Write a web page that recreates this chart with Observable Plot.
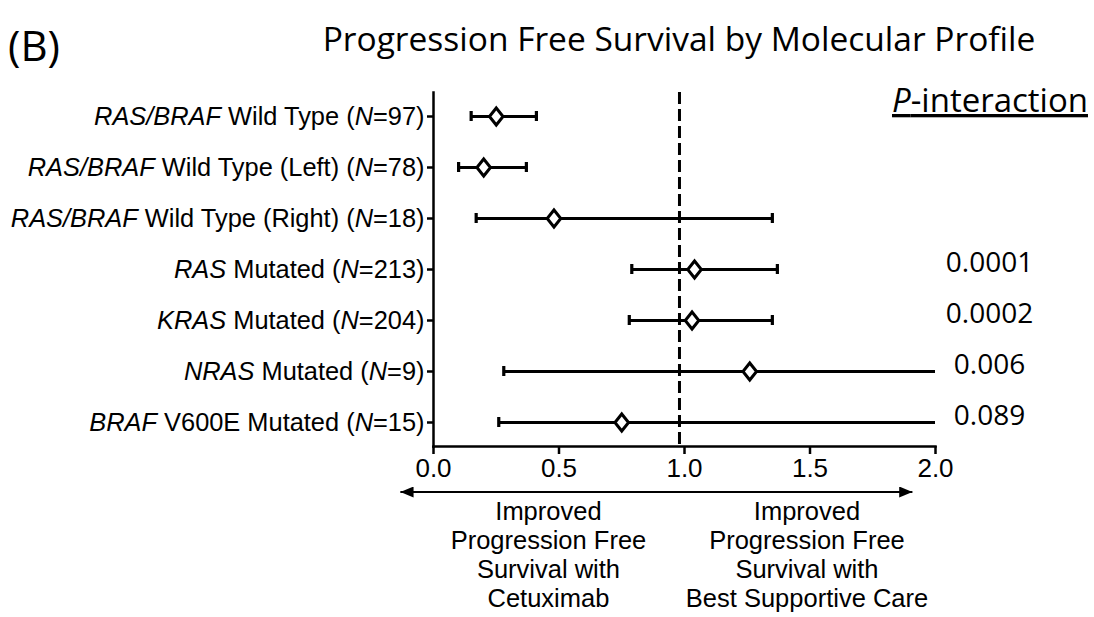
<!DOCTYPE html>
<html><head><meta charset="utf-8">
<script src="https://cdn.jsdelivr.net/npm/d3@7"></script>
<script src="https://cdn.jsdelivr.net/npm/@observablehq/plot@0.6"></script>
<style>
html,body{margin:0;padding:0;background:#fff;}
#chart{width:1094px;height:617px;overflow:hidden;position:relative;}
</style></head><body><div id="chart"></div>
<script>
// ---- data ----
// "_..._" marks italic parts of a label
const labels = [
  "_RAS/BRAF_ Wild Type (_N_=97)",
  "_RAS/BRAF_ Wild Type (Left) (_N_=78)",
  "_RAS/BRAF_ Wild Type (Right) (_N_=18)",
  "_RAS_ Mutated (_N_=213)",
  "_KRAS_ Mutated (_N_=204)",
  "_NRAS_ Mutated (_N_=9)",
  "_BRAF_ V600E Mutated (_N_=15)"
];
const hazardRatio = [0.25, 0.20, 0.48, 1.04, 1.03, 1.26, 0.75];
const ciLower     = [0.15, 0.10, 0.17, 0.79, 0.78, 0.28, 0.26];
const ciUpper     = [0.41, 0.37, 1.35, 1.37, 1.35, 2.00, 2.00];
const truncated   = [false, false, false, false, false, true, true]; // upper limit runs past the axis
const pInteraction = ["", "", "", "0.0001", "0.0002", "0.006", "0.089"];
const xTicks = [0, 0.5, 1.0, 1.5, 2.0];
const referenceLine = 0.98;
const title = "Progression Free Survival by Molecular Profile";
const panelTag = "(B)";
const leftNote = ["Improved", "Progression Free", "Survival with", "Cetuximab"];
const rightNote = ["Improved", "Progression Free", "Survival with", "Best Supportive Care"];

// ---- build ----
const rows = labels.map((label, i) => ({
  label, hr: hazardRatio[i], lo: ciLower[i], hi: ciUpper[i], open: truncated[i], p: pInteraction[i]
}));

const W = 1094, H = 617;
const diamond = {
  draw(ctx, size) {
    const r = Math.sqrt(size / Math.PI);
    ctx.moveTo(0, -r * 1.25); ctx.lineTo(r, 0); ctx.lineTo(0, r * 1.25); ctx.lineTo(-r, 0); ctx.closePath();
  }
};

const plot = Plot.plot({
  width: W, height: H,
  marginLeft: 433, marginRight: 159, marginTop: 92, marginBottom: 171,
  style: {fontFamily: "'Liberation Sans', Arial, sans-serif", background: "#fff", color: "#000"},
  x: {domain: [0, 2]},
  y: {type: "band", domain: labels, paddingInner: 0.8, paddingOuter: 0.357, align: 0.5},
  marks: [
    Plot.ruleX([referenceLine], {strokeDasharray: "12,5", strokeWidth: 3}),
    Plot.ruleY(rows, {y: "label", x1: "lo", x2: "hi", strokeWidth: 3.2}),
    Plot.tickX(rows, {x: "lo", y: "label", strokeWidth: 3.2}),
    Plot.tickX(rows.filter(d => !d.open), {x: "hi", y: "label", strokeWidth: 3.2}),
    Plot.dot(rows, {x: "hr", y: "label", symbol: diamond, r: 6.8, fill: "white", stroke: "black", strokeWidth: 3}),
    Plot.text(rows, {y: "label", text: "p", frameAnchor: "right", dx: 54, dy: -6,
      fontFamily: "'Open Sans', sans-serif", fontSize: 28, textAnchor: "middle"}),
    Plot.axisX({ticks: xTicks, tickFormat: d3.format(".1f"), tickSize: 8, tickPadding: 4, fontSize: 26, strokeWidth: 2.5, label: null}),
    Plot.axisY({tickSize: 6, tickPadding: 3, fontSize: 25.4, strokeWidth: 2.5, label: null}),
    Plot.frame({anchor: "bottom", strokeWidth: 2.5}),
    Plot.frame({anchor: "left", strokeWidth: 2.5})
  ]
});
document.getElementById("chart").appendChild(plot);

const svg = d3.select(plot);
// mixed italic tick labels
svg.selectAll('g[aria-label="y-axis tick label"] text').each(function () {
  const raw = this.textContent;
  const parts = raw.split("_");
  const t = d3.select(this);
  t.text(null);
  parts.forEach((s, i) => {
    if (!s) return;
    const ts = t.append("tspan").text(s);
    if (i % 2 === 1) ts.attr("font-style", "italic");
  });
});

const xs = plot.scale("x");
const X = v => xs.apply(v);
const axisY = H - 171;

// title and panel tag
svg.append("text").attr("x", 679).attr("y", 51).attr("text-anchor", "middle")
  .attr("font-family", "'Open Sans', sans-serif").attr("font-size", 33.5).attr("fill", "#000").text(title);
svg.append("text").attr("x", 8).attr("y", 61).attr("text-anchor", "start")
  .attr("font-family", "'Open Sans', sans-serif").attr("font-size", 42).attr("fill", "#000").text(panelTag);

// P-interaction header
const ph = svg.append("text").attr("x", 990).attr("y", 112).attr("text-anchor", "middle")
  .attr("font-family", "'Open Sans', sans-serif").attr("font-size", 33).attr("fill", "#000")
  .style("text-decoration", "underline");
ph.append("tspan").attr("font-style", "italic").text("P");
ph.append("tspan").text("-interaction");

// double-headed arrow
const defs = svg.append("defs");
["start", "end"].forEach(k => {
  defs.append("marker").attr("id", "arr-" + k).attr("viewBox", "0 0 12 10")
    .attr("refX", k === "end" ? 12 : 0).attr("refY", 5)
    .attr("markerWidth", 14).attr("markerHeight", 11).attr("markerUnits", "userSpaceOnUse")
    .attr("orient", "auto")
    .append("path").attr("d", k === "end" ? "M0,0L12,5L0,10Z" : "M12,0L0,5L12,10Z").attr("fill", "#000");
});
svg.append("line").attr("x1", X(-0.13)).attr("x2", X(1.91)).attr("y1", axisY + 46).attr("y2", axisY + 46)
  .attr("stroke", "#000").attr("stroke-width", 2.2)
  .attr("marker-start", "url(#arr-start)").attr("marker-end", "url(#arr-end)");

// explanatory notes
function note(lines, cx) {
  const t = svg.append("text").attr("text-anchor", "middle")
    .attr("font-family", "'Liberation Sans', Arial, sans-serif").attr("font-size", 25.5).attr("fill", "#000");
  lines.forEach((s, i) => t.append("tspan").attr("x", cx).attr("y", axisY + 74 + i * 29).text(s));
}
note(leftNote, X(0.46));
note(rightNote, X(1.49));
</script>
</body></html>
